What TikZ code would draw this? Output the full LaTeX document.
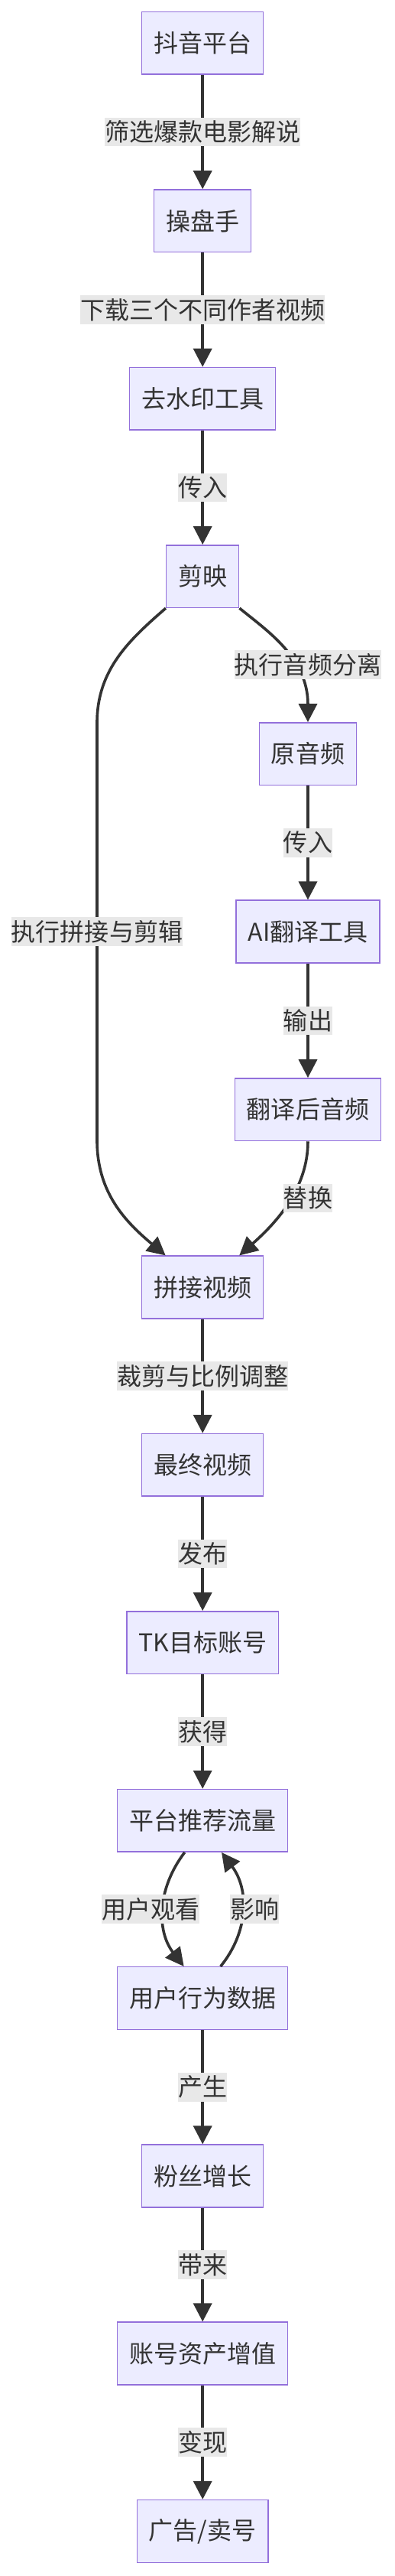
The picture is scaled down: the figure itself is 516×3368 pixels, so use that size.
\documentclass[tikz,border=0pt]{standalone}
\usepackage{fontspec}
\newfontfamily\cjk{Noto Sans CJK SC}
\usetikzlibrary{arrows.meta}
\definecolor{boxfill}{HTML}{ECECFF}
\definecolor{boxline}{HTML}{9370DB}
\definecolor{edgeline}{HTML}{333333}
\definecolor{lblfill}{HTML}{E8E8E8}

\begin{document}
\begin{tikzpicture}[x=0.025cm,y=-0.025cm,
box/.style={rectangle,draw=boxline,fill=boxfill,line width=0.0375cm,minimum height=2.04cm,inner xsep=0.3875cm,inner ysep=0cm,text=edgeline,font=\cjk\fontsize{22.76}{27}\selectfont},
lbl/.style={rectangle,fill=lblfill,inner sep=0cm,minimum height=0.9375cm,text=edgeline,font=\cjk\fontsize{22.76}{27}\selectfont},
flow/.style={draw=edgeline,line width=0.09cm,-{Triangle[length=0.6cm,width=0.6cm]}}]
\path[use as bounding box,fill=white] (0,0) rectangle (516,3368);

\node[box] (douyin) at (265.2,56.4) {抖音平台};
\node[box] (caopan) at (265.2,288.8) {操盘手};
\node[box] (qushuiyin) at (265.2,521.3) {去水印工具};
\node[box] (jianying) at (265.2,753.6) {剪映};
\node[box] (yuanyin) at (403,985.7) {原音频};
\node[box] (aifanyi) at (403,1218) {AI翻译工具};
\node[box] (fanyihou) at (403,1450.7) {翻译后音频};
\node[box] (pinjie) at (265.2,1683) {拼接视频};
\node[box] (zuizhong) at (265.2,1915.4) {最终视频};
\node[box] (tkzhang) at (265.2,2147.6) {TK目标账号};
\node[box] (tuijian) at (265.2,2380.3) {平台推荐流量};
\node[box] (yonghu) at (265.2,2612.5) {用户行为数据};
\node[box] (fensi) at (265.2,2845) {粉丝增长};
\node[box] (zichan) at (265.2,3077) {账号资产增值};
\node[box] (bianxian) at (265.2,3309.4) {广告/卖号};

\draw[flow] (douyin) -- node[lbl] {筛选爆款电影解说} (caopan);
\draw[flow] (caopan) -- node[lbl] {下载三个不同作者视频} (qushuiyin);
\draw[flow] (qushuiyin) -- node[lbl] {传入} (jianying);

\draw[flow] (jianying.south west) .. controls (170,836) and (127,875) .. (127,945)
  -- node[lbl] {执行拼接与剪辑} (127,1491) .. controls (127,1560) and (165,1598) .. ([xshift=-1.2125cm]pinjie.north);
\draw[flow] (jianying.south east) .. controls (350,825) and (403,860) .. (yuanyin.north);
\node[lbl] (lblfenli) at (403,868.8) {执行音频分离};
\draw[flow] (yuanyin) -- node[lbl] {传入} (aifanyi);
\draw[flow] (aifanyi) -- node[lbl] {输出} (fanyihou);
\draw[flow] (fanyihou.south) .. controls (403,1555) and (360,1600) .. ([xshift=1.2cm]pinjie.north);
\node[lbl] (lbltihuan) at (403,1566.3) {替换};

\draw[flow] (pinjie) -- node[lbl] {裁剪与比例调整} (zuizhong);
\draw[flow] (zuizhong) -- node[lbl] {发布} (tkzhang);
\draw[flow] (tkzhang) -- node[lbl] {获得} (tuijian);

\draw[flow] ([xshift=-0.5875cm]tuijian.south) .. controls (205,2470) and (205,2525) .. ([xshift=-0.6125cm]yonghu.north);
\node[lbl] (lblguankan) at (197.3,2496) {用户观看};
\draw[flow] ([xshift=0.5875cm]yonghu.north) .. controls (326,2525) and (326,2470) .. ([xshift=0.62cm]tuijian.south);
\node[lbl] (lblyingxiang) at (333.3,2496) {影响};

\draw[flow] (yonghu) -- node[lbl] {产生} (fensi);
\draw[flow] (fensi) -- node[lbl] {带来} (zichan);
\draw[flow] (zichan) -- node[lbl] {变现} (bianxian);

\end{tikzpicture}
\end{document}
